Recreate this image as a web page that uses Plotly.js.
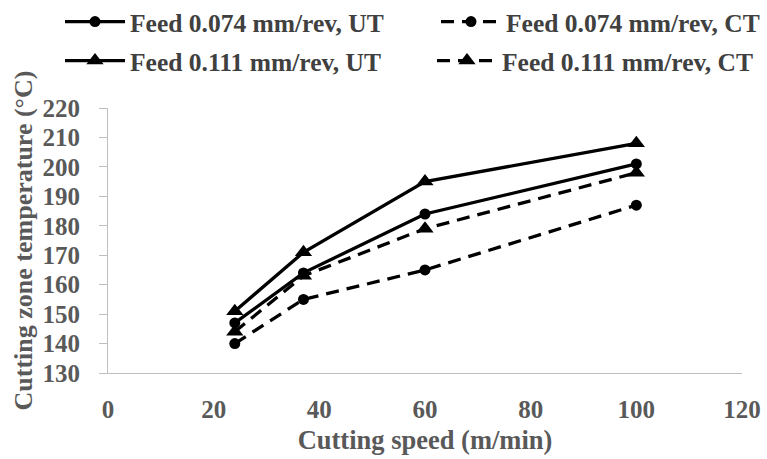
<!DOCTYPE html>
<html>
<head>
<meta charset="utf-8">
<script src="https://cdn.plot.ly/plotly-3.0.1.min.js"></script>
<style>html,body{margin:0;padding:0;background:#fff;}#chart{width:767px;height:459px;}</style>
</head>
<body>
<div id="chart"></div>
<script>
var speeds = [24, 37, 60, 100];
var feed074UT = [147, 164, 184, 201];
var feed074CT = [140, 155, 165, 187];
var feed111UT = [151, 171, 195, 208];
var feed111CT = [144, 163, 179, 198];
var seriesNames = ['Feed 0.074 mm/rev, UT', 'Feed 0.074 mm/rev, CT', 'Feed 0.111 mm/rev, UT', 'Feed 0.111 mm/rev, CT'];
var xTicks = [0, 20, 40, 60, 80, 100, 120];
var yTicks = [130, 140, 150, 160, 170, 180, 190, 200, 210, 220];

var W = 767, H = 459;
var fontFam = '"Liberation Serif", "Times New Roman", serif';
function tr(y, name, sym, dash, size, leg) {
  return {
    x: speeds, y: y, name: name, type: 'scatter', mode: 'lines+markers',
    line: {color: '#000', width: 3.3, dash: dash},
    marker: {symbol: sym, size: size, color: '#000'},
    legend: leg
  };
}
var data = [
  tr(feed074UT, seriesNames[0], 'circle', 'solid', 11, 'legend'),
  tr(feed074CT, seriesNames[1], 'circle', '13px,8px', 11, 'legend2'),
  tr(feed111UT, seriesNames[2], 'triangle-up', 'solid', 15, 'legend3'),
  tr(feed111CT, seriesNames[3], 'triangle-up', '13px,8px', 15, 'legend4')
];
var legFont = {family: fontFam, size: 25.5, color: '#404040', weight: 'bold'};
function leg(xpx, ypx) {
  return {orientation: 'h', xref: 'container', yref: 'container', x: xpx / W, y: 1 - ypx / H,
    xanchor: 'left', yanchor: 'middle', font: legFont, bgcolor: 'rgba(0,0,0,0)', itemwidth: 60};
}
var layout = {
  width: W, height: H,
  margin: {l: 108, r: 25, t: 108, b: 86},
  paper_bgcolor: '#fff', plot_bgcolor: '#fff',
  font: {family: fontFam, color: '#595959'},
  showlegend: true,
  legend: leg(60, 22),
  legend2: leg(436, 22),
  legend3: leg(60, 61),
  legend4: leg(432, 61),
  xaxis: {
    range: [0, 120], tickvals: xTicks, ticktext: xTicks.map(String),
    showgrid: false, zeroline: false, showline: true, linecolor: '#bfbfbf', linewidth: 1,
    ticks: '', ticklabelstandoff: 14,
    tickfont: {family: fontFam, size: 25, color: '#595959', weight: 'bold'},
    title: {text: 'Cutting speed (m/min)', font: {family: fontFam, size: 26.5, color: '#595959', weight: 'bold'}, standoff: 8}
  },
  yaxis: {
    range: [130, 220], tickvals: yTicks, ticktext: yTicks.map(String),
    showgrid: false, zeroline: false, showline: true, linecolor: '#bfbfbf', linewidth: 1,
    ticks: 'outside', ticklen: 8, tickcolor: '#bfbfbf', ticklabelstandoff: 14,
    tickfont: {family: fontFam, size: 25, color: '#595959', weight: 'bold'},
    title: {text: 'Cutting zone temperature (°C)', font: {family: fontFam, size: 26, color: '#595959', weight: 'bold'}, standoff: 2}
  }
};
Plotly.newPlot('chart', data, layout, {displayModeBar: false, staticPlot: true});
</script>
</body>
</html>
